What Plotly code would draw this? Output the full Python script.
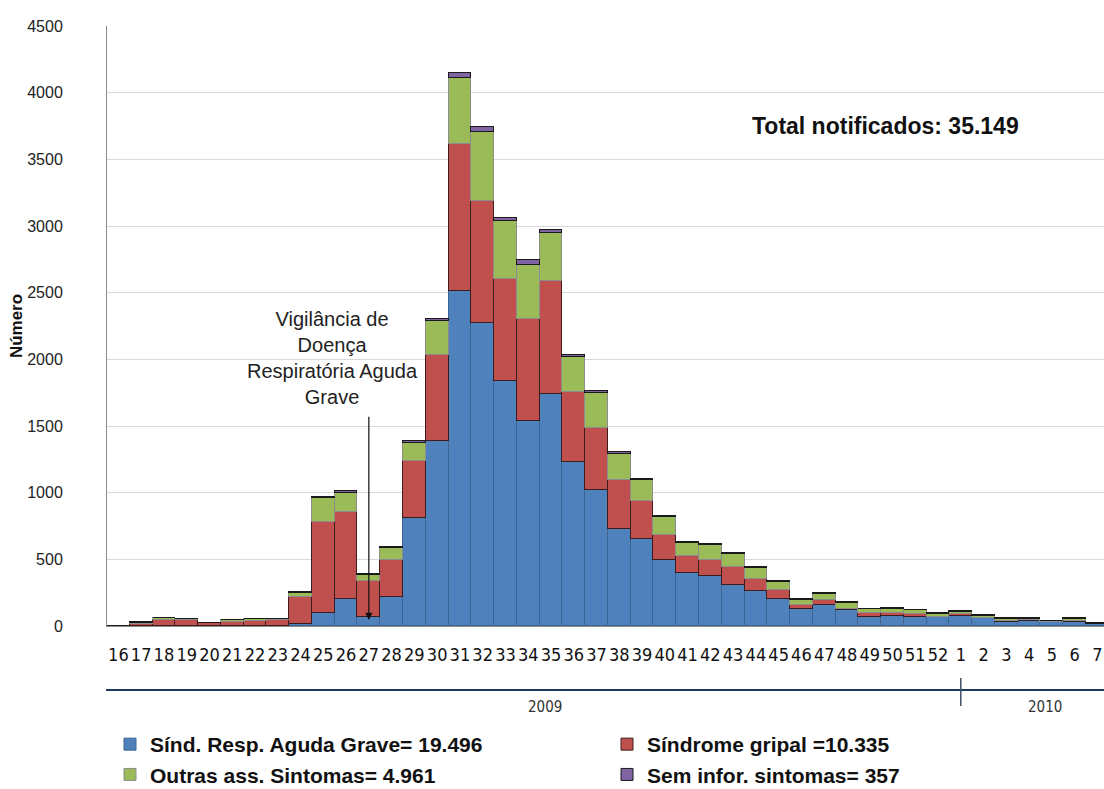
import plotly.graph_objects as go

weeks = ["16", "17", "18", "19", "20", "21", "22", "23", "24", "25", "26", "27", "28", "29",
         "30", "31", "32", "33", "34", "35", "36", "37", "38", "39", "40", "41", "42", "43",
         "44", "45", "46", "47", "48", "49", "50", "51", "52",
         "1", "2", "3", "4", "5", "6", "7"]

srag = [0, 0, 2, 0, 0, 0, 0, 0, 15, 95, 202, 70, 220, 813,
        1387, 2513, 2275, 1836, 1534, 1742, 1229, 1018, 730, 652, 495, 395, 375, 307,
        262, 200, 127, 157, 120, 70, 75, 70, 65,
        78, 57, 32, 40, 30, 32, 12]
gripal = [0, 12, 40, 45, 20, 32, 37, 42, 205, 687, 650, 267, 275, 421,
          646, 1104, 910, 766, 768, 843, 524, 466, 362, 285, 187, 130, 120, 138,
          88, 70, 30, 38, 10, 25, 25, 22, 5,
          15, 5, 3, 3, 2, 5, 0]
outras = [0, 10, 15, 7, 3, 10, 12, 8, 30, 175, 148, 45, 90, 140,
          255, 494, 518, 436, 408, 361, 264, 264, 200, 155, 133, 97, 110, 95,
          88, 62, 40, 45, 45, 30, 28, 25, 22,
          12, 12, 20, 8, 5, 12, 5]
seminfo = [0, 6, 6, 4, 2, 5, 6, 5, 8, 12, 14, 8, 10, 10,
           18, 38, 38, 25, 32, 25, 14, 15, 10, 10, 8, 7, 7, 6,
           6, 5, 5, 5, 3, 5, 4, 3, 3,
           7, 8, 7, 6, 3, 8, 3]

names = ["Sínd. Resp. Aguda Grave= 19.496", "Síndrome gripal =10.335",
         "Outras ass. Sintomas= 4.961", "Sem infor. sintomas= 357"]
fills = ["#4F81BD", "#C0504D", "#9BBB59", "#8064A2"]
edges = ["#3A6694", "#3A1E1E", "#8C8C8C", "#1A1A1A"]
ytick_vals = [0, 500, 1000, 1500, 2000, 2500, 3000, 3500, 4000, 4500]

xpos = list(range(len(weeks)))

fig = go.Figure()
for vals, name, fc, ec in zip([srag, gripal, outras, seminfo], names, fills, edges):
    fig.add_trace(go.Bar(x=xpos, y=vals, name="<b>" + name + "</b>",
                         marker=dict(color=fc, line=dict(color=ec, width=1))))

W, H = 1104, 789
L, R, T, B = 107, 0, 26, 163
pw = W - L - R
ph = H - T - B

def px_x(px):
    return (px - L) / pw

def px_y(py):
    return (H - B - py) / ph

narrow = "DejaVu Sans Condensed, Liberation Sans Narrow, Arial Narrow, Liberation Sans, sans-serif"

fig.update_layout(
    width=W, height=H,
    margin=dict(l=L, r=R, t=T, b=B, pad=0, autoexpand=False),
    barmode="stack", bargap=0,
    plot_bgcolor="white", paper_bgcolor="white",
    font=dict(family="Liberation Sans, Arial, sans-serif", color="#222222"),
    xaxis=dict(range=[-0.5, 43.29], tickmode="array", tickvals=xpos, ticktext=weeks,
               tickangle=0, showgrid=False, showline=True, linecolor="#8C8C8C", linewidth=1,
               ticks="", ticklabelstandoff=12,
               tickfont=dict(family=narrow, size=18, color="#111111")),
    yaxis=dict(range=[0, 4500], tickmode="array", tickvals=ytick_vals,
               showgrid=True, gridcolor="#D9D9D9", gridwidth=1, zeroline=False,
               showline=True, linecolor="#8C8C8C", linewidth=1, ticks="",
               ticklabelstandoff=40,
               tickfont=dict(size=16, color="#222222"),
               title=dict(text="<b>Número</b>", font=dict(size=17, color="#111111"), standoff=0)),
    legend=dict(orientation="h", x=px_x(110), xanchor="left", y=px_y(724), yanchor="top",
                entrywidth=452, entrywidthmode="pixels", traceorder="normal",
                font=dict(size=21, color="#111111", family="Liberation Sans, Arial, sans-serif"),
                itemclick=False, tracegroupgap=0, bgcolor="rgba(0,0,0,0)"),
    showlegend=True,
)

fig.add_annotation(x=px_x(750), y=px_y(126), xref="paper", yref="paper",
                   text="<b>Total notificados: 35.149</b>", showarrow=False,
                   xanchor="left", yanchor="middle",
                   font=dict(size=23, color="#111111"))

fig.add_annotation(x=px_x(332), y=px_y(358), xref="paper", yref="paper",
                   text="Vigilância de<br>Doença<br>Respiratória Aguda<br>Grave", showarrow=False,
                   xanchor="center", yanchor="middle", align="center",
                   font=dict(size=20, color="#222222"))

fig.add_annotation(x=11, y=45, xref="x", yref="y", ax=11, ay=1580, axref="x", ayref="y",
                   text="", showarrow=True, arrowhead=2, arrowsize=1.2, arrowwidth=1.2,
                   arrowcolor="#111111")

# year timeline below the axis
fig.add_shape(type="line", xref="paper", yref="paper", x0=px_x(106), x1=1.0,
              y0=px_y(690), y1=px_y(690), line=dict(color="#1F3A5F", width=2))
fig.add_shape(type="line", xref="x", yref="paper", x0=37, x1=37,
              y0=px_y(678), y1=px_y(706), line=dict(color="#3C4E66", width=1.5))
fig.add_annotation(x=px_x(545), y=px_y(707), xref="paper", yref="paper", text="2009",
                   showarrow=False, xanchor="center", yanchor="middle",
                   font=dict(size=15, color="#333333", family=narrow))
fig.add_annotation(x=px_x(1045), y=px_y(707), xref="paper", yref="paper", text="2010",
                   showarrow=False, xanchor="center", yanchor="middle",
                   font=dict(size=15, color="#333333", family=narrow))

fig.write_html("out.html")
